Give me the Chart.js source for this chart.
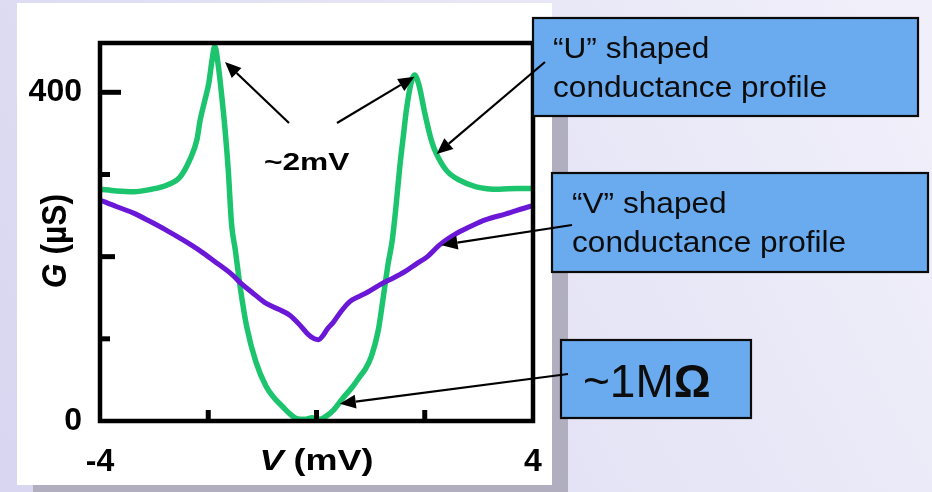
<!DOCTYPE html>
<html>
<head>
<meta charset="utf-8">
<title>G(V) conductance profiles</title>
<script src="https://cdn.jsdelivr.net/npm/chart.js@4.4.1/dist/chart.umd.min.js"></script>
<style>
  html, body { margin: 0; padding: 0; overflow: hidden; background: #e4e3f5; }
  #wrap { position: relative; width: 932px; height: 492px; }
  canvas { display: block; }
</style>
</head>
<body>
<div id="wrap"><canvas id="chart" width="932" height="492"></canvas></div>
<script>
// Bias voltage (mV) and differential conductance (µS) for the "U" shaped trace
const biasU = [-4.00, -3.70, -3.38, -3.05, -2.77, -2.52, -2.34, -2.21, -2.15, -2.06, -1.99, -1.93, -1.88,
               -1.81, -1.75, -1.69, -1.63, -1.57, -1.50, -1.41, -1.29, -1.12, -0.93, -0.78, -0.62, -0.48,
               -0.37, -0.22, -0.08, 0.05, 0.18, 0.31, 0.49, 0.67, 0.80, 0.91, 1.02, 1.14, 1.23, 1.32, 1.40,
               1.47, 1.54, 1.61, 1.66, 1.75, 1.81, 1.90, 1.99, 2.12, 2.21, 2.40, 2.64, 2.95, 3.38, 3.70, 4.00];
const condU = [282, 280, 279, 282, 287, 297, 318, 342, 366, 391, 411, 439, 456,
               430, 395, 355, 305, 240, 208, 163, 115, 72, 42, 28, 17, 8,
               3, 2, 4, 2, 6, 13, 28, 42, 54, 64, 80, 110, 149, 190, 220,
               262, 310, 350, 378, 412, 421, 407, 378, 342, 326, 305, 293, 285, 282, 283, 283];

// Bias voltage (mV) and differential conductance (µS) for the "V" shaped trace
const biasV = [-4.00, -3.70, -3.38, -3.08, -2.77, -2.46, -2.15, -1.90, -1.54, -1.42, -1.20, -0.93, -0.70,
               -0.50, -0.31, -0.15, -0.04, 0.04, 0.12, 0.20, 0.31, 0.45, 0.61, 0.80, 0.95, 1.23, 1.42,
               1.64, 1.84, 2.05, 2.27, 2.58, 2.85, 3.13, 3.50, 3.94, 4.00];
const condV = [269, 261, 253, 243, 232, 220, 207, 195, 177, 169, 157, 143, 136,
               129, 117, 105, 100, 99, 104, 112, 120, 133, 145, 152, 157, 168, 174,
               182, 191, 200, 214, 228, 237, 245, 252, 261, 262];

// Axis ticks
const xTickLabels = [-4, 4];
const xTickMarks = [-2, 0, 2];
const yTickLabels = [0, 400];
const yTickMarks = [100, 200, 300, 400];

// Callout targets (mV, µS) and texts
const peakLeft = { x: -1.69, y: 437 };
const peakRight = { x: 1.81, y: 419 };
const uShoulder = { x: 2.22, y: 325 };
const vFlank = { x: 2.31, y: 214 };
const zeroBias = { x: 0.43, y: 21 };
const gapLabel = '~2mV';
const uBoxLines = ['\u201cU\u201d shaped', 'conductance profile'];
const vBoxLines = ['\u201cV\u201d shaped', 'conductance profile'];
const resistanceLabel = ['~1M', '\u03a9'];

const GREEN = '#1dc46e';
const PURPLE = '#6b17d8';
const BOX_FILL = '#6aaaee';
const SANS = '"Liberation Sans", Arial, sans-serif';

function toPoints(xs, ys) { return xs.map((x, i) => ({ x: x, y: ys[i] })); }

function arrow(ctx, x0, y0, x1, y1) {
  const ang = Math.atan2(y1 - y0, x1 - x0);
  const head = 16, half = 7;
  const bx = x1 - head * Math.cos(ang), by = y1 - head * Math.sin(ang);
  ctx.save();
  ctx.strokeStyle = '#000';
  ctx.fillStyle = '#000';
  ctx.lineWidth = 2.2;
  ctx.beginPath();
  ctx.moveTo(x0, y0);
  ctx.lineTo(bx, by);
  ctx.stroke();
  ctx.beginPath();
  ctx.moveTo(x1, y1);
  ctx.lineTo(bx + half * Math.sin(ang), by - half * Math.cos(ang));
  ctx.lineTo(bx - half * Math.sin(ang), by + half * Math.cos(ang));
  ctx.closePath();
  ctx.fill();
  ctx.restore();
}

function box(ctx, x, y, w, h) {
  ctx.save();
  ctx.fillStyle = BOX_FILL;
  ctx.fillRect(x, y, w, h);
  ctx.strokeStyle = '#0a0a0a';
  ctx.lineWidth = 2.2;
  ctx.strokeRect(x, y, w, h);
  ctx.restore();
}

// Writes text widened horizontally by sx, starting at (x, y)
function stretchedText(ctx, text, x, y, sx) {
  ctx.save();
  ctx.translate(x, y);
  ctx.scale(sx, 1);
  ctx.fillText(text, 0, 0);
  ctx.restore();
}

const slideDecor = {
  id: 'slideDecor',
  beforeDraw(chart) {
    const ctx = chart.ctx;
    const W = chart.width, H = chart.height;
    ctx.save();
    const g = ctx.createLinearGradient(0, H, W, 0);
    g.addColorStop(0, '#d8d6f0');
    g.addColorStop(1, '#f1f0fa');
    ctx.fillStyle = g;
    ctx.fillRect(0, 0, W, H);
    // panel shadow and white panel
    ctx.fillStyle = '#b1afbf';
    ctx.fillRect(33, 19, 535, 480);
    ctx.fillStyle = '#ffffff';
    ctx.fillRect(17, 3, 535, 482);
    ctx.restore();
  },
  afterDatasetsDraw(chart) {
    const ctx = chart.ctx;
    const a = chart.chartArea;
    const xs = chart.scales.x, ys = chart.scales.y;
    ctx.save();
    ctx.strokeStyle = '#000';
    ctx.lineWidth = 4.5;
    ctx.strokeRect(a.left, a.top, a.right - a.left, a.bottom - a.top);
    // inward tick marks
    ctx.lineWidth = 5;
    ctx.lineCap = 'butt';
    yTickMarks.forEach(v => {
      const py = ys.getPixelForValue(v);
      const len = v === 400 ? 21 : (v === 200 ? 15 : 10);
      ctx.beginPath();
      ctx.moveTo(a.left, py);
      ctx.lineTo(a.left + len, py);
      ctx.stroke();
    });
    xTickMarks.forEach(v => {
      const px = xs.getPixelForValue(v);
      ctx.beginPath();
      ctx.moveTo(px, a.bottom);
      ctx.lineTo(px, a.bottom - 11);
      ctx.stroke();
    });
    ctx.restore();
  },
  afterDraw(chart) {
    const ctx = chart.ctx;
    const a = chart.chartArea;
    const xs = chart.scales.x, ys = chart.scales.y;
    const px = p => ({ x: xs.getPixelForValue(p.x), y: ys.getPixelForValue(p.y) });

    ctx.save();
    ctx.fillStyle = '#000';
    ctx.textBaseline = 'alphabetic';

    // x axis title: V (mV)
    const italic = 'italic bold 30px ' + SANS;
    const upright = 'bold 30px ' + SANS;
    const sx = 1.2;
    ctx.font = italic;
    const wV = ctx.measureText('V').width * sx;
    ctx.font = upright;
    const wRest = ctx.measureText(' (mV)').width * sx;
    const x0 = (a.left + a.right) / 2 - (wV + wRest) / 2;
    ctx.font = italic;
    stretchedText(ctx, 'V', x0, 470, sx);
    ctx.font = upright;
    stretchedText(ctx, ' (mV)', x0 + wV, 470, sx);

    // y axis title: G (µS), read bottom to top
    ctx.save();
    ctx.translate(66, 241);
    ctx.rotate(-Math.PI / 2);
    ctx.scale(1.06, 1.18);
    ctx.font = italic;
    const wG = ctx.measureText('G').width;
    ctx.font = upright;
    const wU = ctx.measureText(' (\u00b5S)').width;
    const t0 = -(wG + wU) / 2;
    ctx.font = italic;
    ctx.fillText('G', t0, 0);
    ctx.font = upright;
    ctx.fillText(' (\u00b5S)', t0 + wG, 0);
    ctx.restore();

    // gap label inside the plot
    ctx.font = 'bold 24px ' + SANS;
    stretchedText(ctx, gapLabel, 264, 170, 1.32);

    // callout boxes
    box(ctx, 533, 18, 385, 98);
    box(ctx, 552, 173, 376, 99);
    box(ctx, 561, 340, 190, 78);

    ctx.fillStyle = '#0d0d0d';
    ctx.font = '29px ' + SANS;
    stretchedText(ctx, uBoxLines[0], 553, 58, 1.09);
    stretchedText(ctx, uBoxLines[1], 553, 97, 1.09);
    stretchedText(ctx, vBoxLines[0], 572, 213, 1.09);
    stretchedText(ctx, vBoxLines[1], 572, 252, 1.09);

    ctx.font = '46px ' + SANS;
    ctx.fillText(resistanceLabel[0], 583, 397);
    const wM = ctx.measureText(resistanceLabel[0]).width;
    ctx.font = 'bold 46px ' + SANS;
    ctx.fillText(resistanceLabel[1], 583 + wM, 397);

    // arrows
    const p1 = px(peakLeft), p2 = px(peakRight), p3 = px(uShoulder), p4 = px(vFlank), p5 = px(zeroBias);
    arrow(ctx, 289, 123, p1.x, p1.y);
    arrow(ctx, 337, 123, p2.x, p2.y);
    arrow(ctx, 545, 62, p3.x, p3.y);
    arrow(ctx, 572, 225, p4.x, p4.y);
    arrow(ctx, 568, 374, p5.x, p5.y);
    ctx.restore();
  }
};

new Chart(document.getElementById('chart'), {
  type: 'line',
  data: {
    datasets: [
      {
        label: 'U shaped',
        data: toPoints(biasU, condU),
        borderColor: GREEN,
        borderWidth: 5.5,
        pointRadius: 0,
        fill: false,
        cubicInterpolationMode: 'monotone',
        order: 1
      },
      {
        label: 'V shaped',
        data: toPoints(biasV, condV),
        borderColor: PURPLE,
        borderWidth: 5,
        pointRadius: 0,
        fill: false,
        cubicInterpolationMode: 'monotone',
        order: 0
      }
    ]
  },
  options: {
    responsive: false,
    devicePixelRatio: 1,
    animation: false,
    layout: { padding: { left: 17, right: 399, top: 43, bottom: 21 } },
    plugins: { legend: { display: false }, tooltip: { enabled: false } },
    scales: {
      x: {
        type: 'linear',
        min: -4,
        max: 4,
        grid: { display: false, drawTicks: false },
        border: { display: false },
        afterBuildTicks: s => { s.ticks = xTickLabels.map(v => ({ value: v })); },
        afterFit: s => { s.height = 50; },
        ticks: {
          autoSkip: false,
          maxRotation: 0,
          padding: 22,
          color: '#000',
          font: { family: SANS, weight: 'bold', size: 32 },
          callback: v => String(v)
        }
      },
      y: {
        type: 'linear',
        min: 0,
        max: 460,
        grid: { display: false, drawTicks: false },
        border: { display: false },
        afterBuildTicks: s => { s.ticks = yTickLabels.map(v => ({ value: v })); },
        afterFit: s => { s.width = 83; },
        ticks: {
          autoSkip: false,
          padding: 18,
          color: '#000',
          font: { family: SANS, weight: 'bold', size: 32 },
          callback: v => String(v)
        }
      }
    }
  },
  plugins: [slideDecor]
});
</script>
</body>
</html>
